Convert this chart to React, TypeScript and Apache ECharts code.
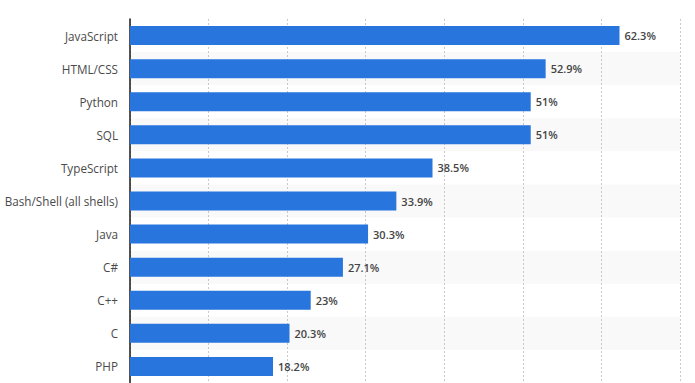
import React, { useEffect, useRef } from "react";
import * as echarts from "echarts";

const categories = [
  "JavaScript",
  "HTML/CSS",
  "Python",
  "SQL",
  "TypeScript",
  "Bash/Shell (all shells)",
  "Java",
  "C#",
  "C++",
  "C",
  "PHP",
];
const values = [62.3, 52.9, 51, 51, 38.5, 33.9, 30.3, 27.1, 23, 20.3, 18.2];
const xMax = 70;
const xInterval = 10;

export default function App() {
  const ref = useRef<HTMLDivElement>(null);
  useEffect(() => {
    if (!ref.current) return;
    const chart = echarts.init(ref.current, undefined, { renderer: "svg" });
    chart.setOption({
      animation: false,
      grid: { left: 130, right: 15, top: 19, bottom: -1, containLabel: false },
      xAxis: {
        type: "value",
        min: 0,
        max: xMax,
        interval: xInterval,
        axisLabel: { show: false },
        axisLine: { show: false },
        axisTick: { show: false },
        splitLine: {
          show: true,
          lineStyle: { color: "#c8c8c8", type: [2, 2], width: 1 },
        },
      },
      yAxis: {
        type: "category",
        data: categories,
        inverse: true,
        axisLine: { show: true, lineStyle: { color: "#1a1a1a", width: 1.5 } },
        axisTick: { show: false },
        axisLabel: {
          margin: 12,
          color: "#4a4a4a",
          fontSize: 11.7,
          fontFamily: "Open Sans",
        },
        splitArea: {
          show: true,
          areaStyle: { color: ["rgba(255,255,255,0)", "#f9f9f9"] },
        },
      },
      series: [
        {
          type: "bar",
          data: values,
          barWidth: 19,
          itemStyle: { color: "#2876dd" },
          label: {
            show: true,
            position: "right",
            distance: 5,
            formatter: "{c}%",
            color: "#444",
            fontSize: 11,
            fontWeight: 600,
            fontFamily: "Open Sans",
          },
        },
      ],
    });
    return () => chart.dispose();
  }, []);
  return <div ref={ref} style={{ width: 695, height: 383, position: "absolute", left: 0, top: 0 }} />;
}
